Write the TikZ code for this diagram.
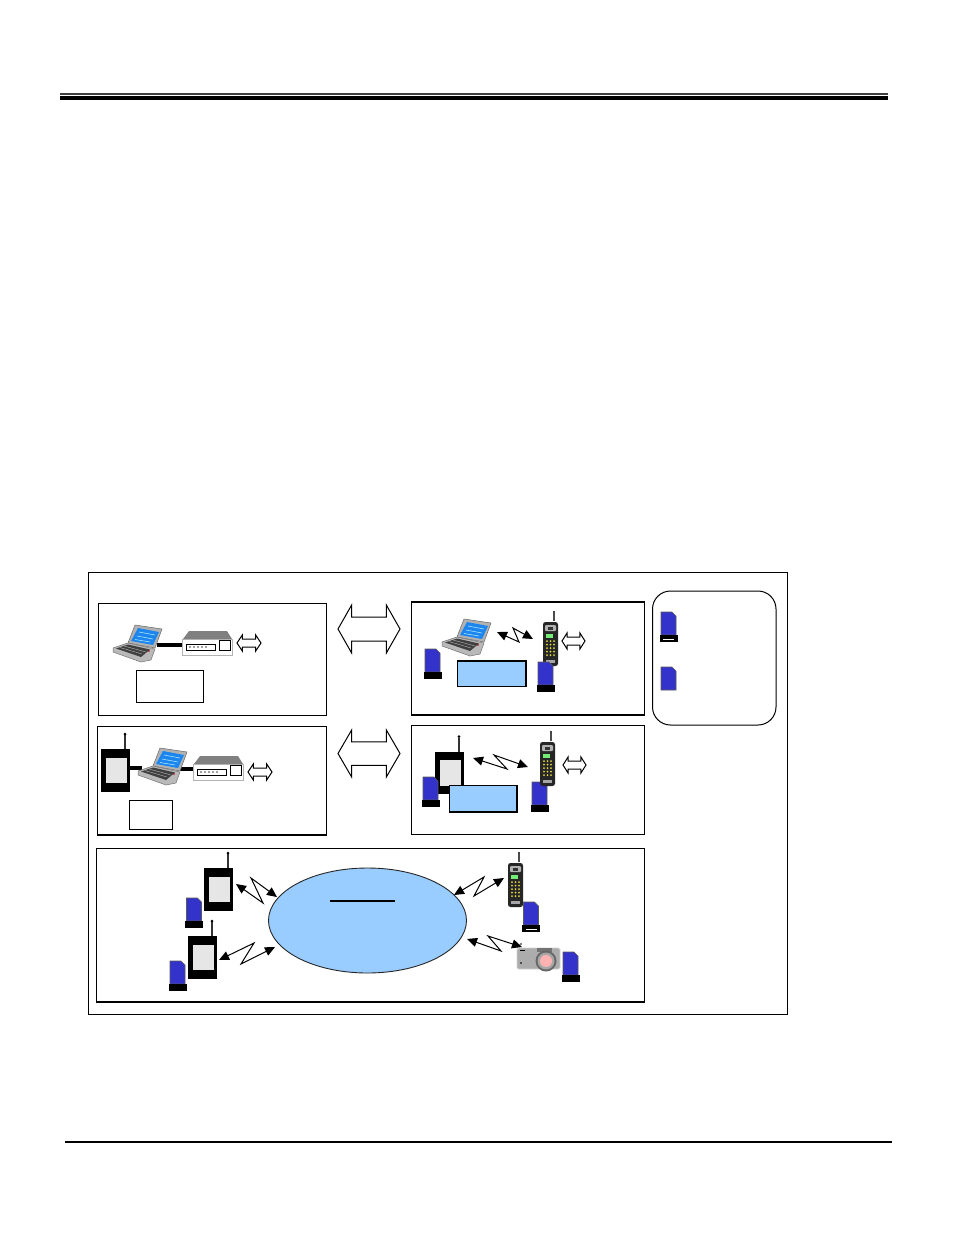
\documentclass[tikz,border=0pt]{standalone}
\usetikzlibrary{arrows.meta,shapes.geometric}
\definecolor{cardblue}{HTML}{3333CC}
\definecolor{skyblue}{HTML}{99CCFF}
\definecolor{panelgray}{HTML}{E6E6E6}
\definecolor{screenblue}{HTML}{1C86EE}
\tikzset{
  x=1pt,y=-1pt,
  frame/.style={draw=black,line width=1pt,fill=white,inner sep=0,outer sep=0,anchor=north west},
  bluebox/.style={frame,fill=skyblue,line width=1.1pt},
  wire/.style={line width=4.4pt,black},
  bolt/.style={line width=1pt,black,{Triangle[length=10pt,width=9pt]}-{Triangle[length=10pt,width=9pt]}},
  laptop/.pic={
    \fill[gray!60,draw=black!60,line width=.5pt] (22,2)--(49,6)--(42,25)--(15,20)--cycle;
    \fill[screenblue] (25,5)--(46,9)--(40,22)--(18,18)--cycle;
    \draw[cyan!35,line width=.6pt] (26,9)--(42,12) (24,13)--(40,16) (22,16.5)--(37,19);
    \fill[gray!55,draw=black!55,line width=.5pt] (0,25)--(15,20)--(42,26)--(38,37)--(28,39)--(0,29)--cycle;
    \fill[black!75] (3,25.5)--(15,21.5)--(37,26.5)--(28,34)--cycle;
    \draw[gray!40,line width=.3pt] (7,24.5)--(29,31) (11,23)--(33,29);
    \fill[red!70!black] (36,28) circle (.8);
  },
  modem/.pic={
    \fill[gray] (1,9)--(7,1)--(45,1)--(50,9)--cycle;
    \draw[draw=gray!60,fill=white,line width=.7pt] (0,9) rectangle (50,25);
    \draw[black,fill=white,line width=.6pt] (4,14) rectangle (33,20);
    \foreach \dx in {8,12,16,20,24}{\fill[gray] (\dx,17) circle (1.1);}
    \draw[black,fill=white,line width=.6pt] (37,10) rectangle (48,20);
  },
  handset/.pic={
    \draw[black!70,line width=1.5pt] (11,-1)--(11,-9);
    \fill[black] (11,-10) circle (1.2);
    \fill[black!85,rounded corners=2.5pt] (0,0) rectangle (15,44);
    \fill[gray!60,rounded corners=1pt] (2,3) rectangle (13,9);
    \fill[black!80] (5,5) rectangle (10,8);
    \fill[green!55!white!85!gray] (2.5,12) rectangle (10,16);
    \foreach \r in {19,22.5,26,29.5,33}{\foreach \c in {4,7.5,11}{\fill[yellow!75!gray] (\c,\r) circle (1);}}
    \fill[gray!70] (3,38) rectangle (12,41);
  },
  cardshape/.pic={
    \draw[fill=cardblue,draw=black!65,line width=.6pt] (0,0)--(11,0)--(15,4)--(15,23)--(0,23)--cycle;
  },
  footcard/.pic={
    \draw[fill=cardblue,draw=black!65,line width=.6pt] (0,0)--(11,0)--(15,4)--(15,23)--(0,23)--cycle;
    \fill[black] (-1.5,23) rectangle (16.5,30);
  },
  slotcard/.pic={
    \draw[fill=cardblue,draw=black!65,line width=.6pt] (0,0)--(11,0)--(15,4)--(15,23)--(0,23)--cycle;
    \fill[black] (-1.5,23) rectangle (16.5,30);
    \draw[white,line width=.8pt] (2,27)--(13,27);
  },
  pda/.pic={
    \draw[black!80,line width=1.5pt] (24,0)--(24,-14);
    \fill[black] (24,-15) circle (1.5);
    \fill[black] (0,0) rectangle (29,42.5);
    \fill[panelgray] (4.5,8.5) rectangle (26,34);
  },
  projector/.pic={
    \fill[gray!65,draw=gray!35,line width=.8pt,rounded corners=1.5pt] (0,0) rectangle (43,21);
    \fill[black!55] (20,0) rectangle (35,4);
    \fill[black!60] (29,13) circle (10.5);
    \fill[gray!70] (29,13) circle (8.5);
    \fill[red!30] (29,13) circle (6);
    \fill[black] (4,-4) circle (.8);
    \fill[black] (3,1.5) rectangle (8,2.7);
    \fill[black!70] (3,14) rectangle (5,15.5);
  },
  twohead/.pic={
    \draw[black,fill=white,line width=1pt] (0,.5)--(.22,0)--(.22,.25)--(.78,.25)--(.78,0)--(1,.5)--(.78,1)--(.78,.75)--(.22,.75)--(.22,1)--cycle;
  }
}
\newcommand{\zigzag}[5]{%
  \coordinate (#1a) at #2; \coordinate (#1b) at #3; \coordinate (#1c) at #4; \coordinate (#1d) at #5;
  \draw[bolt] (#1a)--(#1b)--(#1c)--(#1d);}
\begin{document}
\begin{tikzpicture}
\useasboundingbox (0,0) rectangle (954,1235);
\fill[white] (0,0) rectangle (954,1235);

% page rules
\coordinate (headL) at (60,94); \coordinate (headR) at (888,94);
\coordinate (headLb) at (60,98); \coordinate (headRb) at (888,98);
\draw[black!75,line width=1.2pt] (headL)--(headR);
\draw[black,line width=4.3pt] (headLb)--(headRb);
\coordinate (footL) at (65,1142); \coordinate (footR) at (892,1142);
\draw[black,line width=1.5pt] (footL)--(footR);

% frames
\node[frame,line width=.8pt,minimum width=699pt,minimum height=442pt] (outer) at (88.5,572.5) {};
\node[frame,minimum width=228.5pt,minimum height=112.5pt] (box1) at (98,603) {};
\node[frame,line width=1.1pt,minimum width=233pt,minimum height=113pt] (box2) at (411.5,602) {};
\node[frame,minimum width=229.5pt,minimum height=109pt] (box3) at (97,726) {};
\node[frame,minimum width=233pt,minimum height=109pt] (box4) at (411.5,725) {};
\node[frame,minimum width=548.5pt,minimum height=153.5pt] (box5) at (96,848.5) {};
\node[frame,rounded corners=18pt,minimum width=123.5pt,minimum height=134pt] (legend) at (652.5,591) {};
\draw[line width=1.8pt] (box2.north west)--(box2.north east);
\draw[line width=1.6pt] (box3.south west)--(box3.south east);
\draw[line width=1.8pt] (box5.south west)--(box5.south east);

% big double arrows
\pic[xscale=62,yscale=48] at (338,605) {twohead};
\pic[xscale=62,yscale=47] at (338,730) {twohead};

% box 1
\coordinate (lap1p) at (157,645); \coordinate (mod1p) at (183,645);
\draw[wire] (lap1p)--(mod1p);
\pic at (113,623) {laptop};
\pic at (182,630) {modem};
\pic[xscale=24,yscale=16] at (237,635) {twohead};
\node[frame,line width=.7pt,minimum width=67pt,minimum height=32pt] (label1) at (136,670) {};

% box 2
\pic at (442,617) {laptop};
\pic at (425,649) {footcard};
\node[bluebox,minimum width=68.5pt,minimum height=25.5pt] (label2) at (457.5,661) {};
\pic at (543,622) {handset};
\pic at (538,662) {footcard};
\pic[xscale=23,yscale=16] at (562,633) {twohead};
\zigzag{za}{(497,632)}{(519,642)}{(513,628)}{(533,639)}

% box 3
\coordinate (pda3p) at (130,768); \coordinate (lap3p) at (142,768);
\draw[wire] (pda3p)--(lap3p);
\coordinate (lap3q) at (180,769); \coordinate (mod3p) at (194,769);
\draw[wire] (lap3q)--(mod3p);
\pic at (101,749) {pda};
\pic at (138,746) {laptop};
\pic at (193,755) {modem};
\pic[xscale=24,yscale=16] at (248,764) {twohead};
\node[frame,minimum width=43.5pt,minimum height=29pt] (label3) at (129,800) {};

% box 4
\pic at (435,751.5) {pda};
\pic at (423,777) {footcard};
\node[bluebox,minimum width=67.5pt,minimum height=26.5pt] (label4) at (449.5,785.5) {};
\pic at (532,782) {footcard};
\pic at (540,742) {handset};
\pic[xscale=23,yscale=16] at (563,757) {twohead};
\zigzag{zb}{(473,758)}{(507,769)}{(494,755)}{(528,767)}

% box 5
\node[draw=black!85,fill=skyblue,line width=.9pt,shape=ellipse,inner sep=0,minimum width=198pt,minimum height=105pt] (cloud) at (367.5,920.5) {};
\coordinate (ulineL) at (330,901); \coordinate (ulineR) at (395,901);
\draw[black,line width=1.4pt] (ulineL)--(ulineR);
\pic at (204,868) {pda};
\pic at (186.5,898) {footcard};
\pic at (188,936) {pda};
\pic at (170,961) {footcard};
\pic at (508,863) {handset};
\pic at (523.5,902) {slotcard};
\pic at (517,948) {projector};
\pic at (563,952) {footcard};
\zigzag{zc}{(236,884)}{(263,903)}{(251,878)}{(277,897)}
\zigzag{zd}{(219,960)}{(254,943)}{(241,964)}{(275,947)}
\zigzag{ze}{(454,895)}{(484,877)}{(474,896)}{(504,878)}
\zigzag{zf}{(467,939)}{(501,951)}{(488,936)}{(522,947)}

% legend
\pic at (661,612) {slotcard};
\pic at (661,667) {cardshape};
\end{tikzpicture}
\end{document}
